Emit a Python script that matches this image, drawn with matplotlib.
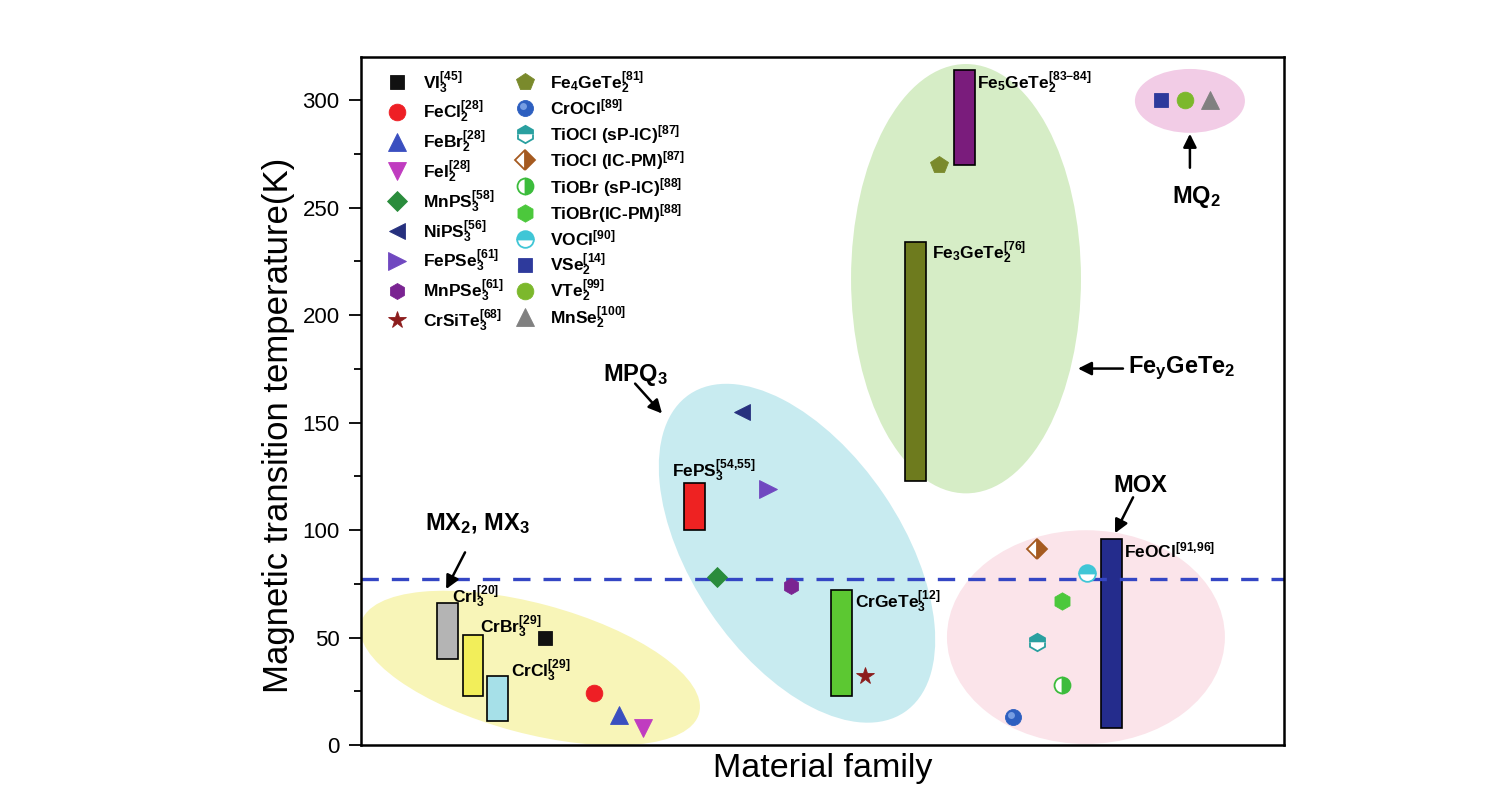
import matplotlib
matplotlib.use('Agg')
import matplotlib.pyplot as plt
from matplotlib.patches import Ellipse
from matplotlib.ticker import MultipleLocator
from matplotlib import transforms

plt.rcParams['font.family'] = ['Liberation Sans', 'DejaVu Sans']
plt.rcParams['mathtext.fontset'] = 'custom'
plt.rcParams['mathtext.rm'] = 'Liberation Sans'
plt.rcParams['mathtext.bf'] = 'Liberation Sans:bold'
plt.rcParams['mathtext.it'] = 'Liberation Sans:italic'
plt.rcParams['mathtext.default'] = 'bf'

# ---------------- data ----------------
# range bars (material, x-position in family axis, Tc range in K)
bar_labels = [r'CrI$_3^{[20]}$', r'CrBr$_3^{[29]}$', r'CrCl$_3^{[29]}$', r'FePS$_3^{[54{,}55]}$',
              r'CrGeTe$_3^{[12]}$', r'Fe$_3$GeTe$_2^{[76]}$', r'Fe$_5$GeTe$_2^{[83{-}84]}$',
              r'FeOCl$^{[91{,}96]}$']
bar_x = [40.0, 52.0, 63.6, 154.9, 223.2, 257.5, 280.1, 348.6]
bar_low = [40, 23, 11, 100, 23, 123, 270, 8]
bar_high = [66, 51, 32, 122, 72, 234, 314, 96]
bar_colors = ['#b4b4b4', '#f2ee5a', '#a6e0e8', '#ee2222', '#5cc832', '#6e7b1e', '#7a1c7c', '#242c8c']
bar_label_x = [42.3, 55.3, 69.7, 144.4, 229.4, 265.2, 286.1, 354.4]
bar_label_y = [66.0, 52.0, 31.6, 124.5, 63.6, 226.2, 305.2, 87.3]

# single-point materials
pt_labels = [r'VI$_3^{[45]}$', r'FeCl$_2^{[28]}$', r'FeBr$_2^{[28]}$', r'FeI$_2^{[28]}$',
             r'MnPS$_3^{[58]}$', r'NiPS$_3^{[56]}$', r'FePSe$_3^{[61]}$', r'MnPSe$_3^{[61]}$',
             r'CrSiTe$_3^{[68]}$', r'Fe$_4$GeTe$_2^{[81]}$', r'CrOCl$^{[89]}$',
             r'TiOCl (sP-IC)$^{[87]}$', r'TiOCl (IC-PM)$^{[87]}$', r'TiOBr (sP-IC)$^{[88]}$',
             r'TiOBr(IC-PM)$^{[88]}$', r'VOCl$^{[90]}$', r'VSe$_2^{[14]}$', r'VTe$_2^{[99]}$',
             r'MnSe$_2^{[100]}$']
pt_x = [85.5, 108.2, 119.8, 131.0, 165.3, 177.0, 189.0, 199.7, 234.1, 268.5, 302.8,
        314.0, 314.0, 325.6, 325.6, 337.2, 371.6, 382.7, 394.3]
pt_y = [50, 24, 14, 8, 78, 155, 119, 74, 32, 270, 13, 48, 91, 28, 67, 80, 300, 300, 300]
pt_markers = ['s', 'o', '^', 'v', 'D', '<', '>', 'h', '*', 'p', 'o', 'h', 'D', 'o', 'h', 'o', 's', 'o', '^']
pt_colors = ['#111111', '#ee1f25', '#3a4fc0', '#c03cc0', '#2a8c3c', '#26307e', '#7048c0', '#7a2492',
             '#8c1c1c', '#7a8a2c', '#2d5fc0', '#2aa0a0', '#a55a20', '#3cbc3c', '#4cc83c', '#40c6d6',
             '#2e3a9c', '#7cb82c', '#808080']
pt_sizes = [9.5, 12, 13, 13, 10, 12, 13, 11.5, 13, 13, 11.5, 12.5, 10, 11.5, 12.5, 12, 10, 12, 13]
pt_fill = ['full'] * 11 + ['top', 'right', 'right', 'full', 'top', 'full', 'full', 'full']

# family ellipses
ell_cx = [78.5, 202.5, 281.0, 336.7, 385.0]
ell_cy = [35.8, 89.2, 216.9, 50.2, 299.6]
ell_w = [162.6, 178.4, 106.8, 129.1, 51.1]
ell_h = [60.4, 97.5, 199.7, 99.4, 29.7]
ell_ang = [-15, -56, 0, 0, 0]
ell_colors = ['#f8f5b8', '#c8ebf0', '#d6edc6', '#fbe4ea', '#f2cce6']

# family annotations
fam_labels = [r'MX$_2$, MX$_3$', r'MPQ$_3$', r'Fe$_y$GeTe$_2$', r'MQ$_2$', 'MOX']
fam_tx = [29.7, 112.4, 356.2, 376.7, 349.3]
fam_ty = [99.9, 169.5, 172.8, 252.2, 117.5]
arr_x0 = [48.3, 127.3, 353.9, 385.0, 358.6]
arr_y0 = [89.6, 168.1, 175.1, 268.5, 115.2]
arr_x1 = [39.5, 139.8, 333.0, 385.0, 350.2]
arr_y1 = [72.5, 154.2, 175.1, 284.3, 98.5]

ln2_temp = 77

# ---------------- figure ----------------
fig = plt.figure(figsize=(15, 8.09), dpi=100)
ax = fig.add_axes([0.2407, 0.0791, 0.6153, 0.8504])
ax.set_xlim(0, 428.7)
ax.set_ylim(0, 320)

for cx, cy, w, h, a, c in zip(ell_cx, ell_cy, ell_w, ell_h, ell_ang, ell_colors):
    ax.add_patch(Ellipse((cx, cy), w, h, angle=a, facecolor=c, edgecolor='none', zorder=0.5))

ax.bar(bar_x, [h - l for h, l in zip(bar_high, bar_low)], bottom=bar_low, width=9.75,
       color=bar_colors, edgecolor='black', linewidth=1.2, zorder=2)

ax.axhline(ln2_temp, color='#3446c4', lw=2.4, dashes=(5.2, 3.9), zorder=2.5)

for lab, lx, ly in zip(bar_labels, bar_label_x, bar_label_y):
    ax.text(lx, ly, lab, fontsize=12.5, fontweight='bold', ha='left', va='baseline', zorder=4)

hl = transforms.offset_copy(ax.transData, fig=fig, x=-1.4, y=1.4, units='points')


def draw_marker(x, y, m, c, s, f, transform):
    kw = dict(marker=m, markersize=s, linestyle='none', zorder=3, clip_on=False)
    if f == 'full':
        ax.plot([x], [y], color=c, markerfacecolor=c, markeredgecolor=c, markeredgewidth=0.6,
                transform=transform, **kw)
    else:
        ax.plot([x], [y], color=c, markerfacecolor=c, markerfacecoloralt='white', fillstyle=f,
                markeredgecolor=c, markeredgewidth=1.3, transform=transform, **kw)


for i, (x, y, m, c, s, f) in enumerate(zip(pt_x, pt_y, pt_markers, pt_colors, pt_sizes, pt_fill)):
    draw_marker(x, y, m, c, s, f, ax.transData)
    if i == 10:  # sphere highlight for CrOCl
        ax.plot([x], [y], marker='o', markersize=5, color='#7fa4e6', markeredgewidth=0,
                alpha=0.9, linestyle='none', transform=hl, zorder=3.1)

# legend (two columns, drawn manually)
H = 688.0
W = 923.0
col_mx = [36 / W, 164 / W]
col_tx = [62 / W, 189 / W]
col_y0 = [25.0, 25.0]
col_dy = [29.8, 26.1]
split = 9
hla = transforms.offset_copy(ax.transAxes, fig=fig, x=-1.4, y=1.4, units='points')
for i, lab in enumerate(pt_labels):
    col = 0 if i < split else 1
    r = i if i < split else i - split
    ypx = col_y0[col] + r * col_dy[col]
    ym = 1 - ypx / H
    yt = 1 - (ypx + 6.5) / H
    draw_marker(col_mx[col], ym, pt_markers[i], pt_colors[i], pt_sizes[i], pt_fill[i], ax.transAxes)
    if i == 10:
        ax.plot([col_mx[col]], [ym], marker='o', markersize=5, color='#7fa4e6', markeredgewidth=0,
                alpha=0.9, linestyle='none', transform=hla, zorder=3.1)
    ax.text(col_tx[col], yt, lab, transform=ax.transAxes, fontsize=12.5, fontweight='bold',
            ha='left', va='baseline', zorder=4)

for lab, tx, ty, x0, y0, x1, y1 in zip(fam_labels, fam_tx, fam_ty, arr_x0, arr_y0, arr_x1, arr_y1):
    ax.text(tx, ty, lab, fontsize=17, fontweight='bold', ha='left', va='baseline', zorder=4)
    ax.annotate('', xy=(x1, y1), xytext=(x0, y0),
                arrowprops=dict(arrowstyle='-|>', color='black', lw=1.8, mutation_scale=20,
                                shrinkA=0, shrinkB=0), zorder=4)

ax.set_xticks([])
ax.set_yticks(range(0, 301, 50))
ax.yaxis.set_minor_locator(MultipleLocator(25))
ax.tick_params(axis='y', which='major', length=8.5, width=1.3, labelsize=16, pad=7)
ax.tick_params(axis='y', which='minor', length=5, width=1.3)
for sp in ax.spines.values():
    sp.set_linewidth(1.8)

ax.set_ylabel('Magnetic transition temperature(K)', fontsize=25)
ax.yaxis.set_label_coords(-0.072, 0.464)
ax.set_xlabel('Material family', fontsize=24.5)
ax.xaxis.set_label_coords(0.5, -0.012)

fig.savefig('out.png', dpi=100, facecolor='white')
